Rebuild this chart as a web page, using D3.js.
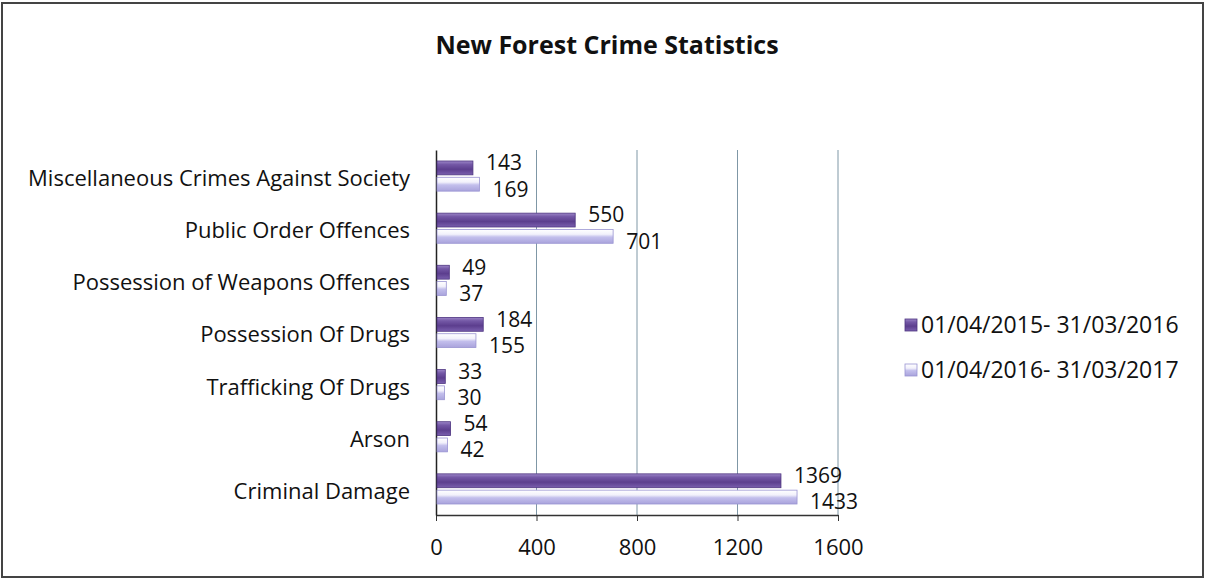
<!DOCTYPE html>
<html>
<head>
<meta charset="utf-8">
<script src="https://cdn.jsdelivr.net/npm/d3@7"></script>
<style>
  body { margin: 0; background: #fff; }
  svg text { font-family: "Open Sans", "Noto Sans", sans-serif; fill: #111; }
</style>
</head>
<body>
<div id="chart"></div>
<script>
// data
var categories = ["Miscellaneous Crimes Against Society", "Public Order Offences",
  "Possession of Weapons Offences", "Possession Of Drugs", "Trafficking Of Drugs",
  "Arson", "Criminal Damage"];
var series2015 = [143, 550, 49, 184, 33, 54, 1369];
var series2016 = [169, 701, 37, 155, 30, 42, 1433];
var seriesNames = ["01/04/2015- 31/03/2016", "01/04/2016- 31/03/2017"];
var xTicks = [0, 400, 800, 1200, 1600];

var W = 1205, H = 578;
var margin = {top: 150, left: 436, right: 367, bottom: 63};
var width = W - margin.left - margin.right;
var height = H - margin.top - margin.bottom;

var svg = d3.select("#chart").append("svg")
  .attr("width", W).attr("height", H);

var defs = svg.append("defs");
var g1 = defs.append("linearGradient").attr("id", "gDark")
  .attr("x1", 0).attr("y1", 0).attr("x2", 0).attr("y2", 1);
g1.append("stop").attr("offset", "0%").attr("stop-color", "#9c86c8");
g1.append("stop").attr("offset", "25%").attr("stop-color", "#7458a6");
g1.append("stop").attr("offset", "60%").attr("stop-color", "#5c3e8e");
g1.append("stop").attr("offset", "100%").attr("stop-color", "#7a5fae");
var g2 = defs.append("linearGradient").attr("id", "gLight")
  .attr("x1", 0).attr("y1", 0).attr("x2", 0).attr("y2", 1);
g2.append("stop").attr("offset", "0%").attr("stop-color", "#ffffff");
g2.append("stop").attr("offset", "35%").attr("stop-color", "#f2f1fb");
g2.append("stop").attr("offset", "55%").attr("stop-color", "#c3bfec");
g2.append("stop").attr("offset", "100%").attr("stop-color", "#a9a3dc");

// frame
svg.append("rect")
  .attr("x", 2).attr("y", 3).attr("width", W - 4).attr("height", H - 4)
  .attr("fill", "none").attr("stroke", "#444").attr("stroke-width", 2);

svg.append("text")
  .attr("x", 607).attr("y", 54)
  .attr("text-anchor", "middle")
  .style("font-size", "25px").style("font-weight", "bold")
  .text("New Forest Crime Statistics");

var chart = svg.append("g")
  .attr("transform", "translate(" + margin.left + "," + margin.top + ")");

var x = d3.scaleLinear().domain([0, 1600]).range([0, width]);
var y0 = d3.scaleBand().domain(categories).range([0, height]);
var y1 = d3.scaleBand().domain([0, 1]).range([11, y0.bandwidth() - 11]).paddingInner(0.15);

// gridlines
chart.selectAll("line.grid").data(xTicks.slice(1))
  .enter().append("line")
  .attr("x1", function(d) { return x(d); }).attr("x2", function(d) { return x(d); })
  .attr("y1", 0).attr("y2", height)
  .attr("stroke", "#7f97a6").attr("stroke-width", 1);

// bottom axis
var xAxis = d3.axisBottom(x).tickValues(xTicks).tickFormat(d3.format("d"))
  .tickSizeInner(6).tickSizeOuter(0).tickPadding(18);
var ax = chart.append("g").attr("transform", "translate(0," + height + ")").call(xAxis);
ax.select(".domain").attr("stroke", "#333").attr("stroke-width", 1.5);
ax.selectAll(".tick line").attr("stroke", "#333");
ax.selectAll(".tick text").style("font-size", "22px").attr("fill", "#111")
  .style("font-family", "'Open Sans', sans-serif");

// left axis
var yAxis = d3.axisLeft(y0).tickSize(0).tickPadding(26);
var ay = chart.append("g").call(yAxis);
ay.select(".domain").attr("stroke", "#222").attr("stroke-width", 1.5);
ay.selectAll(".tick text").style("font-size", "22px").attr("fill", "#111")
  .attr("dy", "0.45em")
  .style("font-family", "'Open Sans', sans-serif");

var rows = categories.map(function(c, i) {
  return {cat: c, vals: [series2015[i], series2016[i]]};
});

var grp = chart.selectAll("g.cat").data(rows).enter().append("g")
  .attr("transform", function(d) { return "translate(0," + y0(d.cat) + ")"; });

grp.selectAll("rect").data(function(d) { return d.vals; })
  .enter().append("rect")
  .attr("x", 1)
  .attr("y", function(d, i) { return y1(i); })
  .attr("width", function(d) { return x(d); })
  .attr("height", y1.bandwidth())
  .attr("fill", function(d, i) { return i === 0 ? "url(#gDark)" : "url(#gLight)"; })
  .attr("stroke", function(d, i) { return i === 0 ? "#4e3580" : "#9a94d2"; })
  .attr("stroke-width", 0.8);

grp.selectAll("text.val").data(function(d) { return d.vals; })
  .enter().append("text")
  .attr("class", "val")
  .attr("x", function(d) { return x(d) + 14; })
  .attr("y", function(d, i) { return y1(i) + y1.bandwidth() / 2 + (i === 0 ? -5 : 5); })
  .attr("dy", "0.35em")
  .style("font-size", "21px")
  .text(function(d) { return d; });

// legend
var legend = svg.append("g").attr("transform", "translate(905,319)");
seriesNames.forEach(function(name, i) {
  var lg = legend.append("g").attr("transform", "translate(0," + (i * 45) + ")");
  lg.append("rect").attr("width", 12).attr("height", 12)
    .attr("fill", i === 0 ? "url(#gDark)" : "url(#gLight)")
    .attr("stroke", i === 0 ? "#4e3580" : "#9a94d2").attr("stroke-width", 0.8);
  lg.append("text").attr("x", 16).attr("y", 6).attr("dy", "0.35em")
    .style("font-size", "23px").text(name);
});
</script>
</body>
</html>
